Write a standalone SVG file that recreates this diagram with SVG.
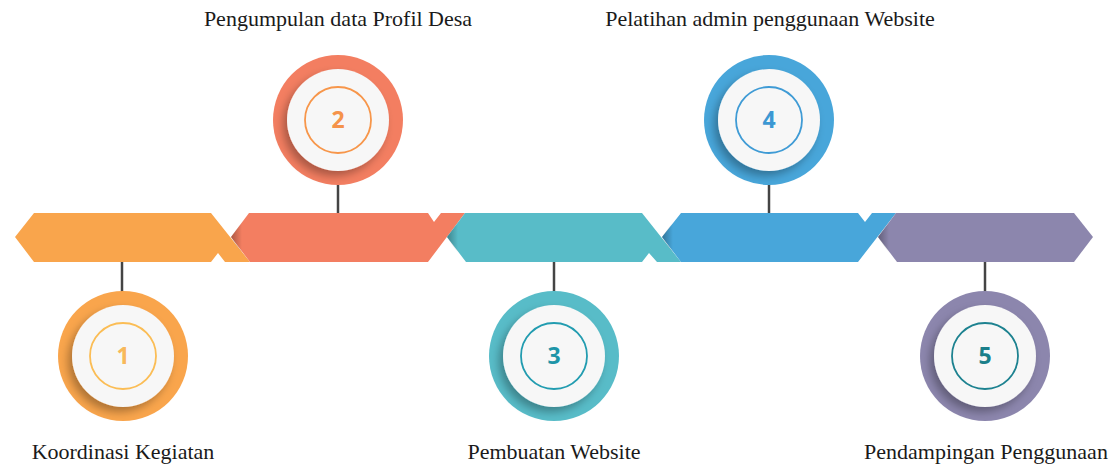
<svg xmlns="http://www.w3.org/2000/svg" width="1115" height="466" viewBox="0 0 1115 466">
<defs>
<filter id="sh" x="-30%" y="-30%" width="160%" height="160%">
<feDropShadow dx="-4" dy="5" stdDeviation="4" flood-color="#000" flood-opacity="0.3"/>
</filter>
<linearGradient id="fold" x1="0" y1="0" x2="1" y2="0">
<stop offset="0" stop-color="#000" stop-opacity="0.3"/>
<stop offset="1" stop-color="#000" stop-opacity="0"/>
</linearGradient>
<style>
.lbl{font-family:"Liberation Serif","Times New Roman",serif;font-size:22px;fill:#1a1a1a;text-anchor:middle}
.num{font-family:"Open Sans","DejaVu Sans",sans-serif;font-size:23px;font-weight:bold;text-anchor:middle}
.inner{fill:#F7F7F7;filter:url(#sh)}
.ring{fill:none;stroke-width:1.8}
.conn{stroke:#444;stroke-width:2.5}
</style>
</defs>
<g id="band">
<polygon points="15,237 34,213 211,213 250,262 225,262 218,253 211,262 34,262" fill="#F9A54C"/>
<polygon points="231,237 249,213 428,213 434,222 441,213 465,213 428,262 250,262" fill="#F37E61"/>
<polygon points="231,237 242,222 242,253" fill="url(#fold)"/>
<polygon points="447,237 465,213 642,213 681,262 657,262 649,253 642,262 466,262" fill="#58BCC8"/>
<polygon points="447,237 458,222 458,253" fill="url(#fold)"/>
<polygon points="662,237 681,213 858,213 865,222 872,213 896,213 858,262 681,262" fill="#48A6DA"/>
<polygon points="662,237 673,222 673,253" fill="url(#fold)"/>
<polygon points="878,237 896,213 1074,213 1093,237 1074,262 897,262" fill="#8C86AD"/>
<polygon points="878,237 889,222 889,253" fill="url(#fold)"/>
</g>
<g id="connectors">
<line class="conn" x1="122" y1="262" x2="122" y2="292"/>
<line class="conn" x1="338" y1="184" x2="338" y2="213"/>
<line class="conn" x1="554" y1="262" x2="554" y2="292"/>
<line class="conn" x1="769" y1="184" x2="769" y2="213"/>
<line class="conn" x1="985" y1="262" x2="985" y2="292"/>
</g>
<g id="node1">
<circle cx="123" cy="356" r="65" fill="#F9A54C"/>
<circle class="inner" cx="123" cy="356" r="51"/>
<circle class="ring" cx="123" cy="356" r="33" stroke="#FBBD55"/>
<text class="num" x="123" y="364" fill="#F8B95A">1</text>
<text class="lbl" x="123" y="459">Koordinasi Kegiatan</text>
</g>
<g id="node2">
<circle cx="338" cy="120" r="65" fill="#F37E61"/>
<circle class="inner" cx="338" cy="120" r="51"/>
<circle class="ring" cx="338" cy="120" r="33" stroke="#F7964A"/>
<text class="num" x="338" y="128" fill="#F5934A">2</text>
<text class="lbl" x="338" y="26">Pengumpulan data Profil Desa</text>
</g>
<g id="node3">
<circle cx="554" cy="356" r="65" fill="#58BCC8"/>
<circle class="inner" cx="554" cy="356" r="51"/>
<circle class="ring" cx="554" cy="356" r="33" stroke="#229CB0"/>
<text class="num" x="554" y="364" fill="#1E95A8">3</text>
<text class="lbl" x="554" y="459">Pembuatan Website</text>
</g>
<g id="node4">
<circle cx="769" cy="120" r="65" fill="#48A6DA"/>
<circle class="inner" cx="769" cy="120" r="51"/>
<circle class="ring" cx="769" cy="120" r="33" stroke="#3F9BD5"/>
<text class="num" x="769" y="128" fill="#3C98D3">4</text>
<text class="lbl" x="770" y="26">Pelatihan admin penggunaan Website</text>
</g>
<g id="node5">
<circle cx="985" cy="356" r="65" fill="#8C86AD"/>
<circle class="inner" cx="985" cy="356" r="51"/>
<circle class="ring" cx="985" cy="356" r="33" stroke="#1D8290"/>
<text class="num" x="985" y="364" fill="#1B7F8A">5</text>
<text class="lbl" x="986" y="459">Pendampingan Penggunaan</text>
</g>
</svg>
